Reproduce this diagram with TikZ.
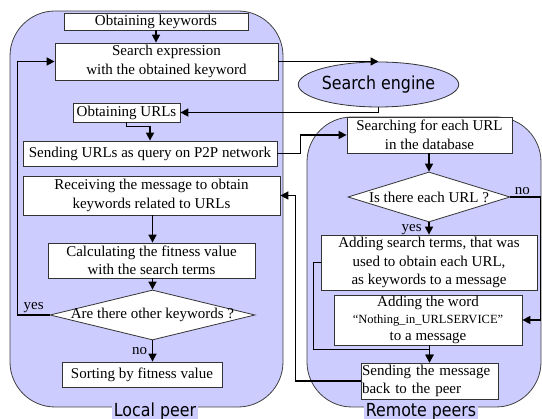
\documentclass[tikz,border=0pt]{standalone}
\usepackage{fontspec}
\setmainfont{Liberation Serif}
\newfontfamily\peerfont[FakeStretch=0.88]{DejaVu Sans}
\usepackage{tikz}
\usetikzlibrary{arrows.meta,shapes.geometric}

\definecolor{peerfill}{RGB}{204,204,255}

\tikzset{
  peer/.style = {draw=black!75, line width=0.8pt, fill=peerfill, rounded corners=45pt},
  peerlabel/.style = {fill=peerfill, inner sep=2pt, anchor=base, font=\peerfont\fontsize{18}{20}\selectfont},
  box/.style = {draw=black!80, line width=0.8pt, fill=white, inner sep=0pt, align=center,
    font=\fontsize{15}{18.5}\selectfont},
  decision/.style = {box, diamond},
  engine/.style = {draw=black!80, line width=0.8pt, fill=peerfill, ellipse, inner sep=0pt,
    font=\peerfont\fontsize{18}{20}\selectfont},
  flow/.style = {line width=1.6pt, >={Triangle[length=8pt,width=8pt]}},
  answer/.style = {font=\fontsize{15}{18}\selectfont, inner sep=1.5pt},
}

\begin{document}
\begin{tikzpicture}[x=1pt, y=-1pt]
\useasboundingbox (0,0) rectangle (542,419);
\clip (0,0) rectangle (542,419);

% the two peers
\draw[peer] (10,11) rectangle (283,407);
\draw[peer] (307,117) rectangle (541,407);
\node[peerlabel] (local) at (155,417) {Local peer};
\node[peerlabel] (remote) at (421,417) {Remote peers};

% local side
\node[box, minimum width=184pt, minimum height=17pt] (kw) at (156,21.5) {Obtaining keywords};
\node[box, minimum width=223pt, minimum height=37pt] (search) at (166.5,61.5) {Search expression\\with the obtained keyword};
\node[box, minimum width=107pt, minimum height=19pt] (urls) at (126.5,112.5) {Obtaining URLs};
\node[box, minimum width=254pt, minimum height=25pt] (send) at (150,153.5) {Sending URLs as query on P2P network};
\node[box, minimum width=257pt, minimum height=39pt] (recv) at (151.5,195.5) {Receiving the message to obtain\\keywords related to URLs};
\node[box, minimum width=207pt, minimum height=35pt] (calc) at (151.5,260.5) {Calculating the fitness value\\with the search terms};
\node[decision, minimum width=205pt, minimum height=50pt] (other) at (152.5,315) {\makebox[0pt]{Are there other keywords ?}};
\node[box, minimum width=160pt, minimum height=25pt] (sort) at (142,374.5) {Sorting by fitness value};

\node[engine, minimum width=133pt, minimum height=45pt] (eng) at (378.5,84.5) {Search engine};

% remote side
\node[box, minimum width=165pt, minimum height=36pt] (lookup) at (429.5,135) {Searching for each URL\\in the database};
\node[decision, minimum width=162pt, minimum height=50pt] (exists) at (429,197) {\makebox[0pt]{Is there each URL ?}};
\node[box, minimum width=216pt, minimum height=55pt] (addterms) at (429,262.5) {Adding search terms, that was\\used to obtain each URL,\\as keywords to a message};
\node[box, minimum width=188pt, minimum height=50pt, font=\fontsize{15}{17}\selectfont] (addword) at (428,320)
  {Adding the word\\{\fontsize{12.5}{17}\selectfont “Nothing\_in\_URLSERVICE”}\\to a message};
\node[box, minimum width=137pt, minimum height=36pt, text width=135pt, align=left] (back) at (429.5,381) {Sending the message\\back to the peer};

\path[->, flow] (kw) edge (kw |- search.north)
  (recv.south -| other.north) edge (calc.north -| other.north)
  (calc.south -| other.north) edge (other.north)
  (other.south) edge node [left, answer, xshift=-3pt] {no} (other.south |- sort.north)
  (lookup.south -| exists.north) edge (exists.north)
  (exists.south) edge node [left, answer, pos=0.6, xshift=-5pt] {yes} (exists.south |- addterms.north)
  (addword.south -| back.north) edge (back.north);

\draw[->, flow] (other.west) -- node[above, answer] {yes} ++(-32,0) |- (search.west);
\draw[->, flow] (search.east) -- (search.east -| eng.north);
\draw[->, flow] (eng.south) |- (urls.east);
\draw[->, flow] (urls.south) -- ++(0,4) -| (send.north);
\draw[->, flow] (send.east) -- ++(23,0) |- (lookup.west);
\draw[->, flow] (exists.east) -- node[above, pos=0.4, answer] {no} ++(30,0) |- (addword.east);
\draw[->, flow] (addterms.west) -- ++(-7,0) |- ([yshift=13pt]back.north) -- (back.north);
\draw[->, flow] (back.west) -- ++(-65,0) |- (recv.east);
\end{tikzpicture}
\end{document}
